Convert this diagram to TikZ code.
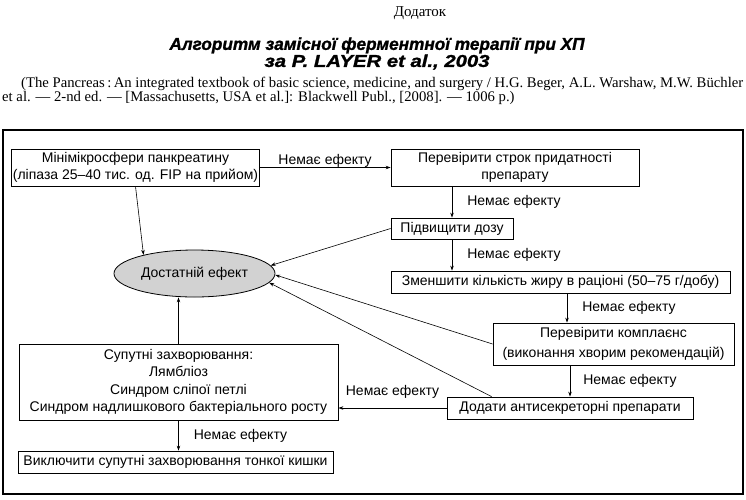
\documentclass[tikz,border=0pt]{standalone}
\usepackage{fontspec}
\setmainfont{Liberation Sans}
\newfontfamily\seriffont{Liberation Serif}
\newfontfamily\titlefont[BoldItalicFeatures={FakeBold=1.2}]{Liberation Sans}
\usetikzlibrary{arrows.meta,shapes.geometric}

\begin{document}
\begin{tikzpicture}[x=1pt,y=-1pt,
		box/.style={draw,line width=0.8pt,inner sep=1pt,align=center,font=\fontsize{14}{16.5}\selectfont},
		arr/.style={-{Stealth[length=5pt,width=3.5pt]},line width=0.6pt},
		lbl/.style={font=\fontsize{14}{16}\selectfont,inner sep=0pt}]
				\useasboundingbox (0,0) rectangle (746,499);
				
				\node[font=\seriffont\fontsize{15}{15}\selectfont] (appx) at (420,13) {Додаток};
				\node[font=\titlefont\bfseries\itshape\fontsize{17.2}{15}\selectfont,align=center] (title) at (377,53.5) {Алгоритм замісної ферментної терапії при ХП\\\scalebox{1.18}[1]{за P. LAYER et al., 2003}};
				\node[font=\seriffont\fontsize{14.7}{12.5}\selectfont,text width=741pt,align=justify,anchor=north west,inner sep=0pt] (ref) at (2,77) {\hspace*{19pt}(The Pancreas\,:\,An integrated textbook of basic science, medicine, and surgery / H.G. Beger, A.L. Warshaw, M.W. Büchler\linebreak et al. — 2-nd ed. — [Massachusetts, USA et al.]: Blackwell Publ., [2008]. — 1006 p.)};
				
				\draw[line width=1.2pt] (3,130) rectangle (743,494);
				
				\node[ellipse,draw,line width=0.8pt,fill=gray!35,minimum width=161pt,minimum height=47pt,inner sep=0pt,font=\fontsize{14}{16}\selectfont] (eff) at (194.5,273.5) {Достатній ефект};
				
				\node[box,minimum width=247pt,minimum height=37pt] (mini) at (135.5,167.5) {Мінімікросфери панкреатину\\(ліпаза 25–40 тис. од. FIP на прийом)};
				\node[box,minimum width=248pt,minimum height=37pt] (expiry) at (515,167.5) {Перевірити строк придатності\\препарату};
				\node[box,minimum width=122pt,minimum height=21pt] (dose) at (452,228.5) {Підвищити дозу};
				\node[box,minimum width=339pt,minimum height=22pt] (fat) at (560.5,282) {Зменшити кількість жиру в раціоні (50–75 г/добу)};
				\node[box,minimum width=241pt,minimum height=42pt] (compl) at (613.5,344) {Перевірити комплаєнс\\[3.5pt](виконання хворим рекомендацій)};
				\node[box,minimum width=246pt,minimum height=22pt] (anti) at (570,408) {Додати антисекреторні препарати};
				\node[box,minimum width=319pt,minimum height=76pt] (comorb) at (178.5,382) {Супутні захворювання:\\[1pt]Лямбліоз\\[1pt]Синдром сліпої петлі\\[1pt]Синдром надлишкового бактеріального росту};
				\node[box,minimum width=315pt,minimum height=22pt] (exclude) at (175.5,462) {Виключити супутні захворювання тонкої кишки};
				
				\coordinate (fatout) at ([xshift=6.5pt]fat.south);
				
				\draw[arr] (mini) -- node[lbl,above] {Немає ефекту} (expiry);
				\draw[arr] (expiry.south -| dose.north) -- node[lbl,right=15pt] {Немає ефекту} (dose.north);
				\draw[arr] (dose.south) -- node[lbl,right=15pt] {Немає ефекту} (dose.south |- fat.north);
				\draw[arr] (fatout) -- node[lbl,right=15pt] {Немає ефекту} (fatout |- compl.north);
				\draw[arr] (anti.north |- compl.south) -- node[lbl,right=13pt] {Немає ефекту} (anti.north);
				\draw[arr] (anti.west) -- node[lbl,above=9pt] {Немає ефекту} (anti.west -| comorb.east);
				\draw[arr] (comorb.south) -- node[lbl,right=15pt] {Немає ефекту} (comorb.south |- exclude.north);
				
				\draw[arr] (mini.south) -- (eff.160);
				\draw[arr] (dose.west) -- (eff.6);
				\draw[arr] (compl.west) -- (eff.-1);
				\draw[arr] ([xshift=45pt]anti.north west) -- (eff.-7);
				\draw[arr] (comorb.north) -- (comorb.north |- eff.south);
			\end{tikzpicture}
\end{document}
